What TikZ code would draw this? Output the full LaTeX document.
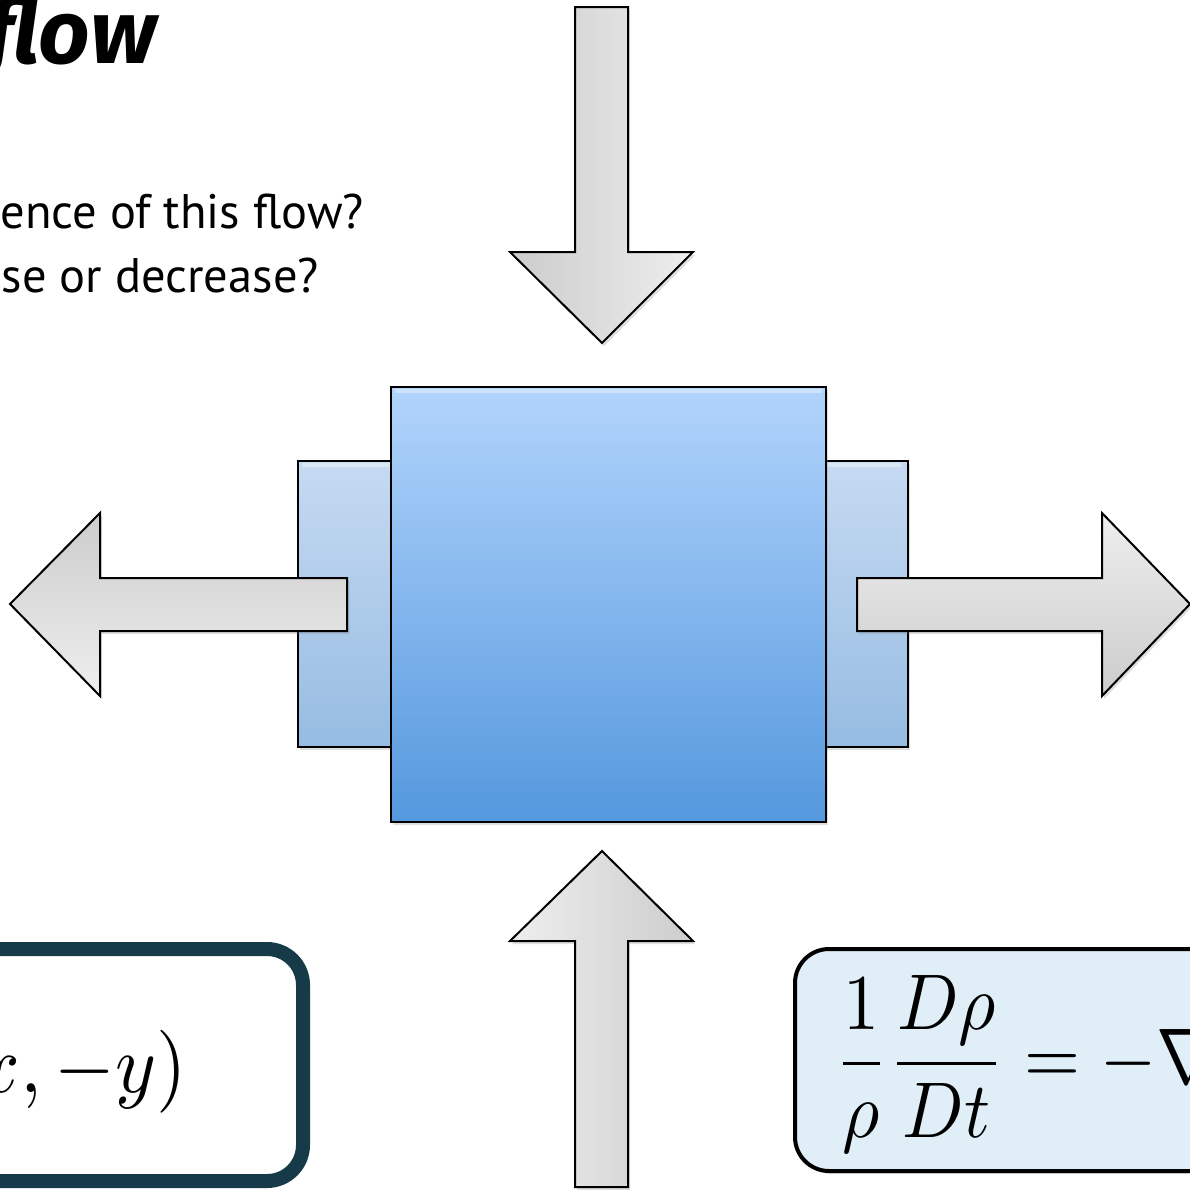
\documentclass[tikz,border=0pt]{standalone}
\usepackage{graphicx}
\usepackage{fontspec}
\newfontfamily\slidefont{PT Sans}
\newfontfamily\titlefont{Fira Sans}
\usetikzlibrary{shadows}
\definecolor{mainTop}{RGB}{178,212,252}
\definecolor{mainBot}{RGB}{84,152,222}
\definecolor{sideTop}{RGB}{198,218,242}
\definecolor{sideBot}{RGB}{150,188,226}
\definecolor{arrDark}{RGB}{204,204,204}
\definecolor{arrLight}{RGB}{238,238,238}
\definecolor{tealBorder}{RGB}{22,58,71}
\definecolor{eqFill}{RGB}{223,238,247}
\tikzset{
  blockarrow/.style={draw=black, line width=2pt, line join=miter,
     drop shadow={opacity=0.25, shadow xshift=2pt, shadow yshift=-3pt}},
  sidebox/.style={draw=black, line width=2pt, top color=sideTop, bottom color=sideBot,
     drop shadow={opacity=0.25, shadow xshift=2pt, shadow yshift=-3pt}},
  mainbox/.style={draw=black, line width=2.5pt, top color=mainTop, bottom color=mainBot,
     drop shadow={opacity=0.25, shadow xshift=2pt, shadow yshift=-3pt}},
  bevel/.style={draw=white, opacity=0.35, line width=4pt},
  slidetext/.style={inner sep=0pt, text=black},
}
\begin{document}
\begin{tikzpicture}[x=1pt, y=-1pt]
\useasboundingbox (0,0) rectangle (1190,1189);
\clip (0,0) rectangle (1190,1189);

% title and question text
\node[slidetext, anchor=base east, font=\titlefont\bfseries\itshape\fontsize{90}{100}\selectfont] (title) at (157,63) {flow};
\node[slidetext, anchor=base east, font=\slidefont\fontsize{48.5}{58}\selectfont] (q1) at (364,228) {ence of this flow?};
\node[slidetext, anchor=base east, font=\slidefont\fontsize{48.5}{58}\selectfont] (q2) at (319,292) {se or decrease?};

% side boxes
\path[sidebox] (298,461) rectangle (908,747);
\path[bevel] (302,465) -- (902,465);

% arrows
\path[blockarrow, left color=arrDark, right color=arrLight]
  (575,7) -- (628,7) -- (628,252) -- (693,252) -- (602,343) -- (510,252) -- (575,252) -- cycle;
\path[blockarrow, left color=arrLight, right color=arrDark]
  (602,851) -- (693,941) -- (628,941) -- (628,1187) -- (575,1187) -- (575,941) -- (510,941) -- cycle;
\path[blockarrow, top color=arrDark, bottom color=arrLight]
  (10,604) -- (100,513) -- (100,578) -- (347,578) -- (347,631) -- (100,631) -- (100,696) -- cycle;
\path[blockarrow, top color=arrLight, bottom color=arrDark]
  (1190,604) -- (1102,696) -- (1102,631) -- (857,631) -- (857,578) -- (1102,578) -- (1102,513) -- cycle;

% main box
\path[mainbox] (391,387) rectangle (826,822);
\path[bevel] (395,391) -- (822,391);

% bottom-left formula box
\path[draw=tealBorder, line width=14pt, fill=white, rounded corners=36pt,
      drop shadow={opacity=0.25, shadow xshift=2pt, shadow yshift=-3pt}]
  (-300,949) rectangle (303,1181);
\node[slidetext, anchor=base east] (vel) at (187,1092) {\scalebox{7.8}[8.3]{$(x,-y)$}};

% bottom-right equation box
\path[draw=black, line width=4pt, fill=eqFill, rounded corners=34pt,
      drop shadow={opacity=0.25, shadow xshift=2pt, shadow yshift=-3pt}]
  (795,949) rectangle (1500,1171);
\node[slidetext, anchor=base west] (cont) at (834,1083)
  {\scalebox{7.2}[7.9]{$\displaystyle\frac{1}{\rho}\frac{D\rho}{Dt}=-\nabla\cdot\mathbf{u}$}};
\end{tikzpicture}
\end{document}
